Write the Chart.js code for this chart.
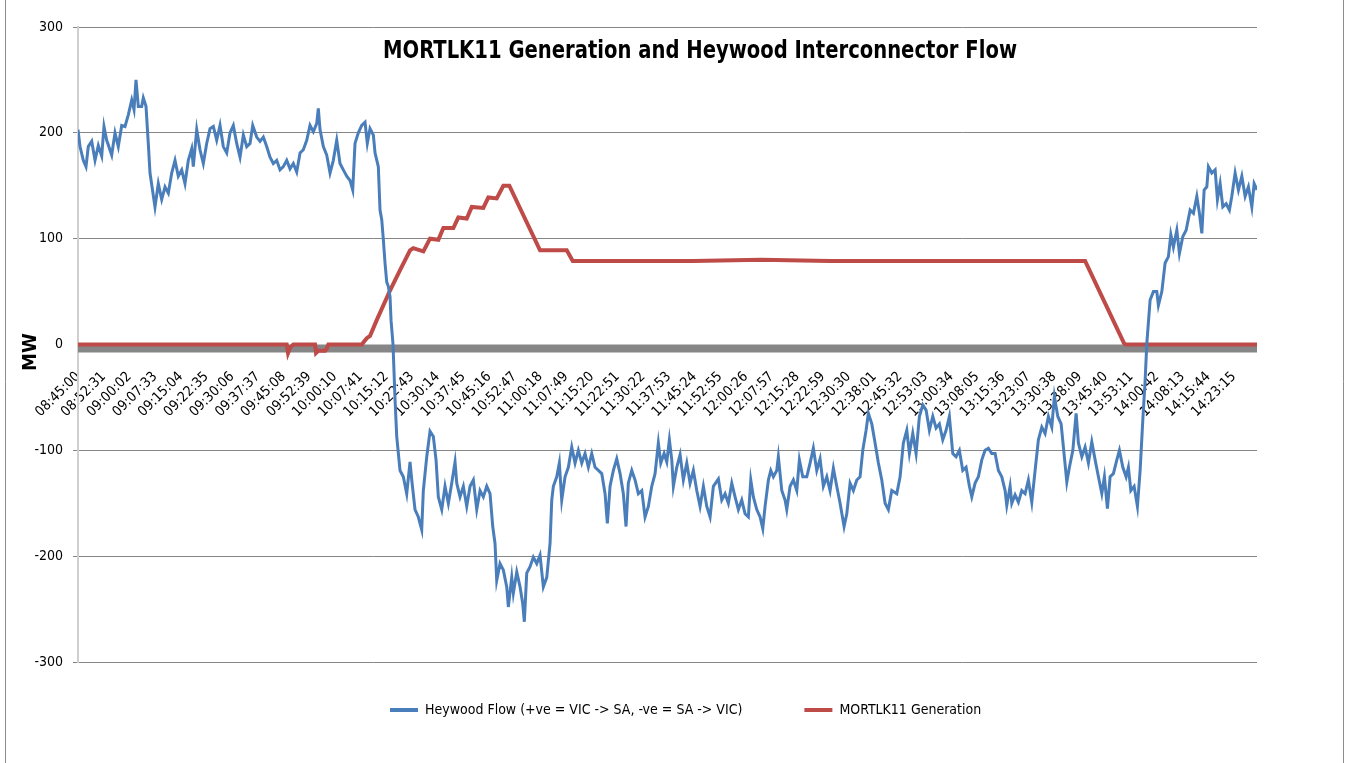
<!DOCTYPE html>
<html lang="en">
<head>
<meta charset="UTF-8">
<title>MORTLK11 Generation and Heywood Interconnector Flow</title>
<style>
    html, body { margin: 0; padding: 0; background: #ffffff; }
    .container { width: 1346px; height: 763px; position: relative; }
</style>
</head>
<body>
<div class="container"><canvas id="flow-chart"></canvas></div>

<script src="https://cdn.jsdelivr.net/npm/chart.js"></script>
<script>
    const FONT = '"DejaVu Sans Condensed", "Liberation Sans", sans-serif';
    const chartTitle = 'MORTLK11 Generation and Heywood Interconnector Flow';
    const axisTitle = 'MW';
    const seriesNames = ['Heywood Flow (+ve = VIC -> SA, -ve = SA -> VIC)', 'MORTLK11 Generation'];

    // x axis labels, one every 451 samples (7:31)
    const tickLabels = ['08:45:00', '08:52:31', '09:00:02', '09:07:33', '09:15:04', '09:22:35', '09:30:06', '09:37:37',
        '09:45:08', '09:52:39', '10:00:10', '10:07:41', '10:15:12', '10:22:43', '10:30:14', '10:37:45', '10:45:16',
        '10:52:47', '11:00:18', '11:07:49', '11:15:20', '11:22:51', '11:30:22', '11:37:53', '11:45:24', '11:52:55',
        '12:00:26', '12:07:57', '12:15:28', '12:22:59', '12:30:30', '12:38:01', '12:45:32', '12:53:03', '13:00:34',
        '13:08:05', '13:15:36', '13:23:07', '13:30:38', '13:38:09', '13:45:40', '13:53:11', '14:00:42', '14:08:13',
        '14:15:44', '14:23:15'];
    const tickStepMin = 451 / 60;
    const spanMin = 345; // 08:45:00 -> 14:30:00

    // Heywood flow, minutes after 08:45:00 / MW
    const flowTimes = [
        0, 0.59, 1.55, 2.34, 3.01, 4.01, 4.98, 5.94, 6.94, 7.61,
        8.40, 9.86, 10.83, 11.79, 12.79, 13.75, 14.72, 15.72, 16.39, 16.97,
        17.65, 18.64, 19.11, 19.90, 20.57, 21.07, 22.53, 23.50, 24.49, 25.46,
        26.43, 27.42, 28.39, 29.35, 30.35, 31.31, 32.28, 33.27, 33.74, 34.74,
        35.70, 36.67, 37.66, 38.63, 39.60, 40.59, 41.56, 42.52, 43.52, 44.48,
        45.45, 46.44, 47.41, 48.38, 49.37, 50.34, 51.13, 52.30, 53.26, 54.23,
        55.22, 56.19, 57.15, 58.15, 59.12, 60.08, 61.08, 62.04, 63.01, 64.00,
        64.97, 65.93, 66.93, 67.89, 68.86, 69.86, 70.32, 70.82, 71.79, 72.78,
        73.75, 74.71, 75.71, 76.67, 77.64, 78.64, 79.60, 80.39, 81.06, 82.03,
        83.02, 83.99, 84.66, 85.45, 86.42, 86.92, 87.88, 88.38, 88.88, 89.35,
        89.84, 90.34, 90.81, 91.31, 91.60, 92.18, 92.77, 93.27, 94.23, 95.20,
        96.19, 97.16, 97.66, 98.62, 99.59, 100.58, 101.05, 102.05, 103.01, 103.98,
        104.77, 105.44, 106.44, 107.40, 108.37, 109.36, 110.33, 110.83, 111.79, 112.76,
        113.75, 114.72, 115.69, 116.68, 117.65, 118.61, 119.61, 120.57, 121.36, 122.03,
        122.53, 123.50, 124.46, 125.46, 125.93, 126.92, 127.39, 128.39, 129.35, 130.14,
        130.61, 131.31, 132.28, 133.24, 134.24, 135.20, 136.17, 137.17, 138.13, 138.63,
        139.10, 140.09, 140.85, 141.55, 142.52, 143.49, 144.48, 145.45, 146.41, 147.41,
        148.37, 149.34, 150.33, 151.30, 152.27, 153.26, 154.23, 154.90, 155.69, 156.66,
        157.65, 158.62, 159.58, 160.37, 161.04, 162.04, 163.00, 163.97, 164.97, 165.93,
        166.90, 167.89, 168.86, 169.82, 170.53, 171.50, 172.29, 173.05, 173.75, 174.22,
        175.21, 176.18, 177.14, 178.14, 179.10, 180.07, 181.06, 182.03, 183.00, 183.99,
        184.96, 185.92, 187.39, 188.38, 189.35, 190.31, 191.31, 192.27, 193.24, 194.23,
        195.20, 196.16, 196.87, 197.63, 198.62, 199.59, 200.38, 201.05, 202.02, 202.72,
        203.48, 204.47, 204.94, 205.94, 206.90, 207.40, 208.37, 209.33, 210.33, 211.09,
        212.08, 213.25, 214.22, 215.18, 216.18, 217.15, 218.11, 219.11, 220.07, 221.04,
        222.03, 223.00, 224.17, 224.96, 225.93, 226.89, 227.89, 228.85, 229.64, 230.61,
        231.28, 232.28, 233.24, 234.21, 235.20, 236.17, 237.13, 238.13, 239.59, 240.56,
        241.52, 242.52, 243.28, 244.27, 245.24, 246.21, 247.20, 248.17, 249.13, 250.13,
        251.09, 252.06, 253.05, 254.02, 254.98, 255.98, 256.94, 257.91, 258.90, 259.87,
        260.84, 261.54, 262.51, 263.47, 264.47, 265.43, 266.40, 267.39, 268.36, 269.33,
        270.32, 271.29, 271.78, 272.75, 273.25, 274.21, 275.18, 276.17, 277.14, 278.10,
        279.10, 280.07, 281.03, 282.03, 282.99, 283.96, 284.95, 285.71, 286.71, 287.68,
        288.35, 289.35, 290.11, 291.11, 292.07, 292.74, 293.74, 294.70, 295.67, 296.66,
        297.63, 298.60, 299.59, 300.35, 301.23, 302.02, 302.98, 303.98, 304.74, 305.74,
        306.70, 307.37, 308.08, 309.04, 310.01, 310.80, 311.59, 312.26, 312.76, 313.72,
        314.69, 315.68, 316.15, 317.15, 318.11, 319.08, 319.78, 320.54, 321.54, 322.30,
        323.29, 324.26, 325.43, 326.40, 327.39, 328.15, 328.86, 329.53, 330.32, 330.79,
        331.78, 332.75, 333.42, 334.21, 335.00, 335.97, 336.93, 337.63, 338.60, 339.57,
        340.56, 341.53, 342.49, 343.49, 344.16, 345
    ];
    const flowValues = [
        203, 187, 174, 168, 187, 192, 174, 188, 178, 206,
        193, 179, 200, 187, 207, 206, 217, 231, 222, 250,
        225, 225, 233, 225, 190, 162, 130, 152, 137, 149,
        143, 162, 174, 159, 165, 152, 174, 185, 168, 203,
        184, 171, 190, 204, 206, 193, 207, 187, 181, 200,
        207, 190, 177, 198, 187, 190, 207, 196, 192, 196,
        187, 177, 171, 174, 165, 168, 174, 166, 171, 163,
        181, 184, 193, 207, 201, 209, 223, 203, 187, 179,
        162, 174, 193, 171, 165, 159, 155, 146, 190, 200,
        207, 210, 190, 204, 198, 181, 168, 127, 118, 99,
        77, 59, 55, 45, 23, 0, -52, -87, -119, -125,
        -141, -111, -128, -156, -163, -175, -138, -106, -82, -87,
        -109, -144, -156, -134, -150, -131, -111, -131, -144, -134,
        -153, -134, -128, -156, -138, -144, -134, -141, -172, -188,
        -223, -207, -213, -229, -248, -220, -235, -215, -229, -245,
        -262, -216, -210, -201, -207, -199, -229, -220, -188, -147,
        -134, -125, -112, -147, -125, -116, -97, -112, -100, -112,
        -103, -116, -103, -116, -119, -122, -141, -169, -134, -119,
        -108, -122, -141, -172, -131, -119, -128, -141, -138, -163,
        -153, -134, -122, -93, -112, -103, -111, -90, -109, -134,
        -116, -104, -128, -112, -131, -119, -138, -153, -134, -153,
        -163, -134, -127, -147, -141, -150, -131, -144, -156, -147,
        -160, -163, -128, -144, -156, -163, -174, -153, -128, -119,
        -125, -119, -106, -138, -147, -156, -134, -128, -138, -109,
        -125, -125, -112, -98, -119, -108, -134, -125, -138, -117,
        -134, -150, -172, -160, -131, -138, -128, -125, -100, -81,
        -65, -75, -93, -112, -128, -150, -156, -138, -141, -125,
        -93, -81, -103, -84, -103, -68, -57, -62, -81, -68,
        -79, -75, -90, -81, -68, -103, -106, -100, -119, -116,
        -134, -144, -131, -125, -109, -100, -98, -103, -103, -119,
        -125, -138, -152, -134, -150, -142, -149, -138, -141, -128,
        -149, -119, -90, -78, -84, -68, -78, -49, -68, -75,
        -97, -130, -116, -100, -65, -93, -106, -97, -112, -92,
        -109, -125, -141, -125, -155, -125, -122, -109, -100, -116,
        -125, -116, -138, -134, -153, -119, -71, -34, 1, 42,
        50, 50, 37, 50, 77, 83, 104, 92, 108, 86,
        102, 108, 127, 124, 140, 124, 105, 146, 149, 168,
        162, 165, 137, 152, 130, 133, 127, 140, 162, 146,
        159, 140, 149, 130, 152, 146
    ];

    // MORTLK11 generation, minutes after 08:45:00 / MW
    const genTimes = [0, 61.08, 61.46, 62.04, 63.01, 69.36, 69.65, 70.3, 72.3, 72.78,
        73.25, 83.1, 83.5, 84.5, 85.45, 87.41, 91.3, 94.2, 97.16, 98.1,
        101.06, 103.01, 105.45, 106.91, 109.83, 111.29, 113.76, 115.22, 118.61, 120.07,
        122.53, 124.46, 126.22, 135.2, 143.02, 144.77, 160, 180, 200, 220,
        240, 260, 280, 294.7, 306.1, 306.6, 345];
    const genValues = [0, 0, -8, -3, 0, 0, -8, -6, -6, -4,
        0, 0, 2, 6, 8, 23, 51, 70, 89, 91,
        88, 100, 99, 110, 110, 120, 119, 130, 129, 139,
        138, 150, 150, 89, 89, 79, 79, 79, 80, 79,
        79, 79, 79, 79, 1, 0, 0];

    if (flowTimes.length !== flowValues.length || genTimes.length !== genValues.length) {
        throw new Error('length mismatch');
    }

    function toPoints(times, values) {
        return times.map((t, i) => ({ x: t, y: values[i] }));
    }

    const LEGEND_GAP = 62;

    // Excel bits: thick grey zero axis, titles, legend nudge, frame
    const excelLook = {
        id: 'excelLook',
        afterLayout(chart) {
            const lg = chart.legend;
            const dx = 390 - LEGEND_GAP;
            lg.top -= 21; lg.bottom -= 21;
            lg.left += dx; lg.right += dx;
        },
        beforeDatasetsDraw(chart) {
            const { ctx, chartArea } = chart;
            const y0 = chart.scales.y.getPixelForValue(0);
            ctx.save();
            ctx.fillStyle = '#868686';
            ctx.fillRect(chartArea.left, y0, chartArea.right - chartArea.left, 8);
            ctx.restore();
        },
        afterDraw(chart) {
            const ctx = chart.ctx;
            ctx.save();
            ctx.fillStyle = '#000';
            ctx.textAlign = 'center';
            ctx.textBaseline = 'middle';
            ctx.font = 'bold 24px ' + FONT;
            ctx.fillText(chartTitle, 700, 52, 634);

            // y axis title sits a little below the middle, as in Excel
            ctx.save();
            ctx.translate(31, 352);
            ctx.rotate(-Math.PI / 2);
            ctx.font = 'bold 20px ' + FONT;
            ctx.fillText(axisTitle, 0, 0);
            ctx.restore();

            // chart frame (left and right edges are all that show)
            ctx.strokeStyle = '#8c8c8c';
            ctx.lineWidth = 1;
            ctx.beginPath();
            ctx.moveTo(5.5, 0); ctx.lineTo(5.5, chart.height);
            ctx.moveTo(1343.5, 0); ctx.lineTo(1343.5, chart.height);
            ctx.stroke();
            ctx.restore();
        }
    };

    const ctx = document.getElementById('flow-chart').getContext('2d');
    const flowChart = new Chart(ctx, {
        type: 'line',
        data: {
            datasets: [{
                label: seriesNames[0],
                data: toPoints(flowTimes, flowValues),
                borderColor: '#4a7ebb',
                backgroundColor: '#4a7ebb',
                borderWidth: 3,
                pointRadius: 0,
                tension: 0
            }, {
                label: seriesNames[1],
                data: toPoints(genTimes, genValues),
                borderColor: '#be4b48',
                backgroundColor: '#be4b48',
                borderWidth: 4,
                pointRadius: 0,
                tension: 0
            }]
        },
        options: {
            responsive: true,
            maintainAspectRatio: false,
            animation: false,
            layout: { padding: { left: 0, right: 89, top: 27, bottom: 15 } },
            scales: {
                x: {
                    type: 'linear',
                    position: { y: 0 },
                    min: 0,
                    max: spanMin,
                    grid: { display: false, drawTicks: false },
                    border: { display: false },
                    afterBuildTicks: s => { s.ticks = tickLabels.map((l, i) => ({ value: i * tickStepMin })); },
                    afterFit: s => { s.height = 0; },
                    ticks: {
                        autoSkip: false,
                        minRotation: 45,
                        maxRotation: 45,
                        padding: 24,
                        color: '#000',
                        font: { family: FONT, size: 14 },
                        callback: (v, i) => tickLabels[i]
                    }
                },
                y: {
                    min: -300,
                    max: 300,
                    afterFit: s => { s.width = 78; },
                    ticks: { stepSize: 100, padding: 10, color: '#000', font: { family: FONT, size: 14 } },
                    grid: {
                        color: c => (c.tick && c.tick.value === 0) ? 'rgba(0,0,0,0)' : '#868686',
                        lineWidth: 1,
                        drawTicks: true,
                        tickLength: 5
                    },
                    border: { color: '#cfcfcf', width: 2 }
                }
            },
            plugins: {
                legend: {
                    position: 'bottom',
                    align: 'start',
                    labels: {
                        boxWidth: 28,
                        boxHeight: 4,
                        padding: LEGEND_GAP,
                        color: '#000',
                        font: { family: FONT, size: 14 },
                        generateLabels: chart => Chart.defaults.plugins.legend.labels.generateLabels(chart)
                            .map(l => Object.assign(l, { lineWidth: 0, fillStyle: l.strokeStyle }))
                    }
                },
                tooltip: { enabled: false }
            }
        },
        plugins: [excelLook]
    });
</script>
</body>
</html>
